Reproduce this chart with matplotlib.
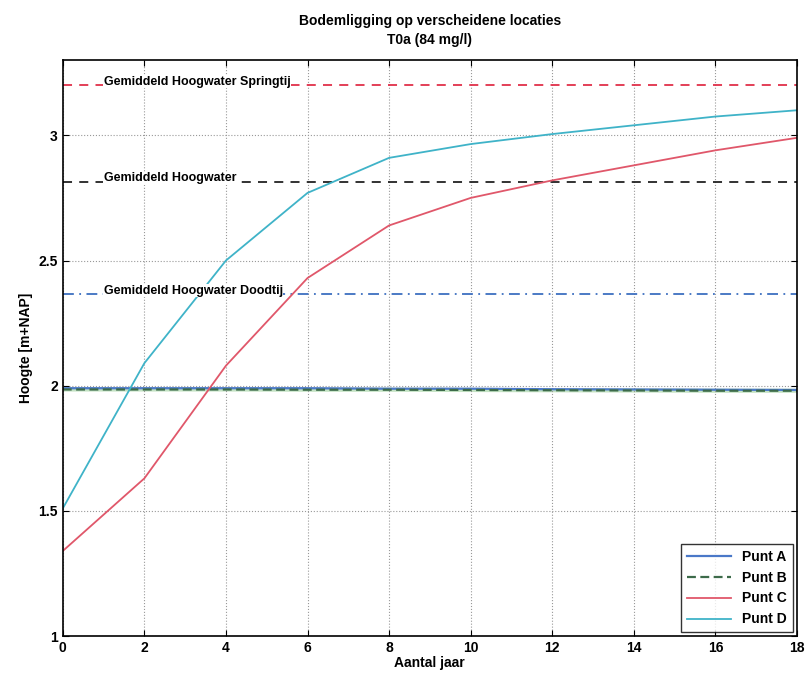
import matplotlib
matplotlib.use("Agg")
import matplotlib.pyplot as plt
import numpy as np

plt.rcParams['font.family'] = ['Liberation Sans', 'DejaVu Sans']

# Data
years = [0, 2, 4, 6, 8, 10, 12, 14, 16, 18]
punt_a = [1.99, 1.99, 1.99, 1.99, 1.988, 1.988, 1.986, 1.985, 1.984, 1.983]
punt_b = [1.985, 1.985, 1.985, 1.984, 1.984, 1.983, 1.982, 1.981, 1.98, 1.98]
punt_c = [1.34, 1.63, 2.08, 2.43, 2.64, 2.75, 2.82, 2.88, 2.94, 2.99]
punt_d = [1.51, 2.09, 2.50, 2.77, 2.91, 2.965, 3.005, 3.04, 3.075, 3.10]

ref_levels = [3.20, 2.815, 2.365]
ref_labels = ['Gemiddeld Hoogwater Springtij', 'Gemiddeld Hoogwater', 'Gemiddeld Hoogwater Doodtij']
ref_colors = ['#e0304a', '#222222', '#3d6fc0']
ref_styles = [(0, (5, 4)), (0, (5, 4)), (0, (6, 3, 1, 3))]

fig = plt.figure(figsize=(8.05, 6.84), dpi=100)
ax = fig.add_axes([0.078, 0.070, 0.912, 0.842])

# Reference water levels
for lvl, lab, c, ls in zip(ref_levels, ref_labels, ref_colors, ref_styles):
    ax.plot([0, 18], [lvl, lvl], color=c, linestyle=ls, linewidth=1.3)
    ax.text(1.0, lvl - 0.01, lab, fontsize=9, fontweight='bold', va='bottom', ha='left',
            bbox=dict(facecolor='white', edgecolor='none', pad=0.3))

ax.plot(years, punt_b, color='#9ccf9c', linewidth=3, alpha=0.6, zorder=1)
ax.plot(years, punt_a, color='#4a78c8', linewidth=1.6, label='Punt A')
ax.plot(years, punt_b, color='#3d6b4a', linewidth=1.6, linestyle=(0, (4, 2)), label='Punt B')
ax.plot(years, punt_c, color='#e0576a', linewidth=1.3, label='Punt C')
ax.plot(years, punt_d, color='#3fb3c8', linewidth=1.3, label='Punt D')

ax.set_xlim(0, 18)
ax.set_ylim(1, 3.3)
ax.set_xticks(np.arange(0, 19, 2))
ax.set_yticks([1, 1.5, 2, 2.5, 3])
ax.set_yticklabels(['1', '1.5', '2', '2.5', '3'])
ax.grid(True, color='#999999', linestyle=':', linewidth=0.8)
ax.tick_params(direction='in', labelsize=10, length=4, top=True, right=True)
for lab in ax.get_xticklabels() + ax.get_yticklabels():
    lab.set_fontweight('bold')
for sp in ax.spines.values():
    sp.set_linewidth(1.2)

ax.set_xlabel('Aantal jaar', fontsize=10, fontweight='bold', labelpad=1)
ax.set_ylabel('Hoogte [m+NAP]', fontsize=10, fontweight='bold', labelpad=4)
ax.set_title('Bodemligging op verscheidene locaties\nT0a (84 mg/l)', fontsize=10,
             fontweight='bold', pad=12, linespacing=1.4)

leg = ax.legend(loc='lower right', fontsize=10, frameon=True, fancybox=False,
                edgecolor='black', handlelength=3.2, borderaxespad=0.3)
for t in leg.get_texts():
    t.set_fontweight('bold')

fig.savefig('out.png', dpi=100)
